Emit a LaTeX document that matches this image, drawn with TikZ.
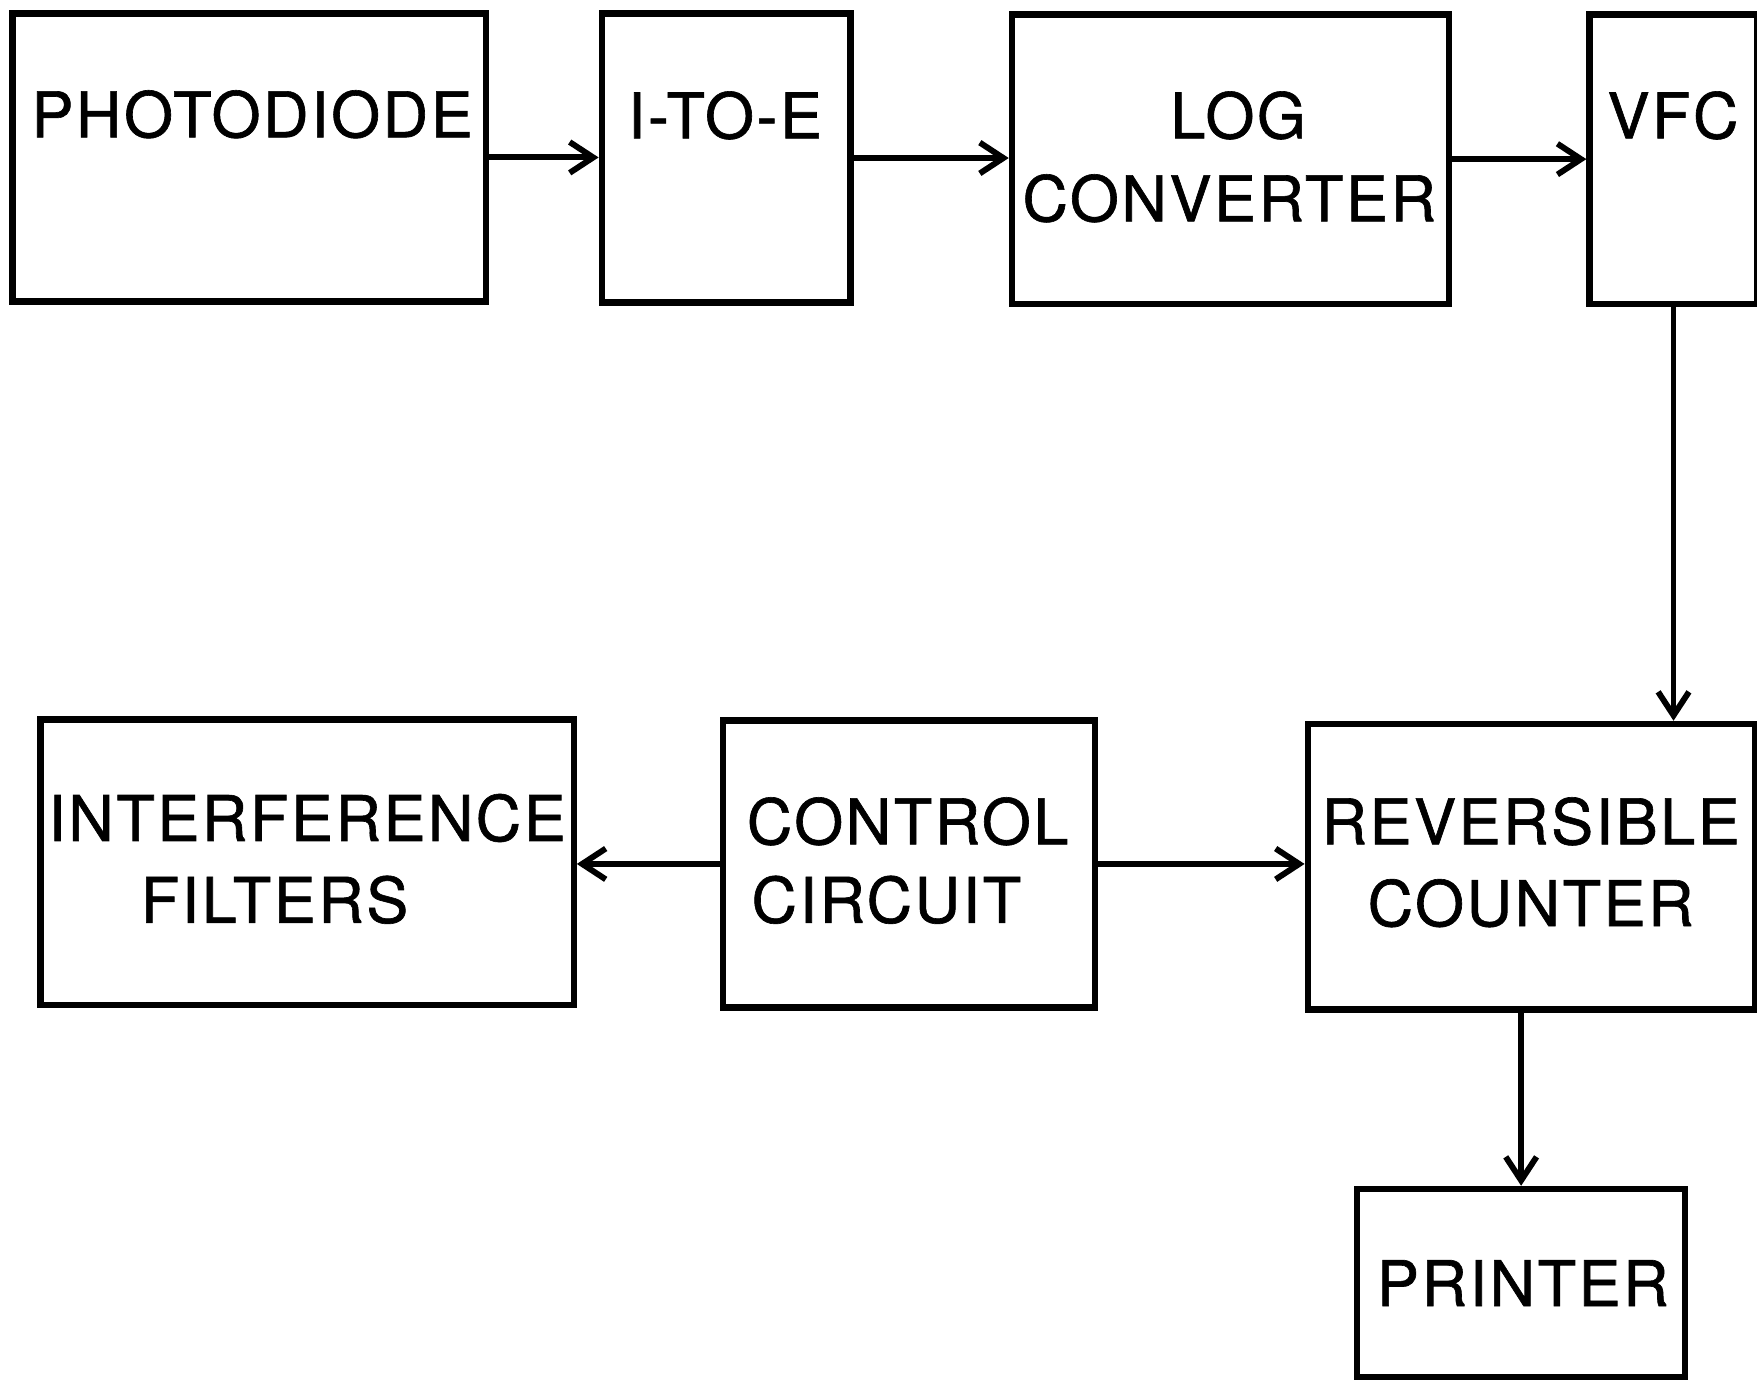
\documentclass[tikz,border=0pt]{standalone}
\usepackage{fontspec}
\setmainfont{TeX Gyre Heros}
\newfontfamily\lettering[FakeBold=1.0, LetterSpace=4]{TeX Gyre Heros}
\usetikzlibrary{arrows.meta, positioning, calc}
\tikzset{
  blk/.style={draw=black, line width=3.2pt, minimum width=#1, inner sep=0pt},
  lbl/.style={inner sep=0pt, font=\lettering\fontsize{32}{36}\selectfont},
  flow/.style={-{Straight Barb[length=0.42cm, width=0.55cm]}, line width=3pt, draw=black},
}

\begin{document}
\begin{tikzpicture}[x=0.02cm, y=-0.02cm]
  \useasboundingbox (0,0) rectangle (1568,1232);
  % top row
  \node (pd)   [blk=8.46cm, minimum height=5.14cm] at (222.5,140.5) {};
  \node (ite)  [blk=4.44cm, minimum height=5.16cm] at (648,141) {};
  \node (log)  [blk=7.80cm, minimum height=5.16cm] at (1098,142) {};
  \node (vfc)  [blk=3.00cm, minimum height=5.16cm] at (1493.5,142) {};
  % middle row
  \node (filt) [blk=9.52cm, minimum height=5.10cm] at (274,769.5) {};
  \node (ctrl) [blk=6.64cm, minimum height=5.12cm] at (811,771) {};
  \node (rev)  [blk=7.98cm, minimum height=5.10cm] at (1366.5,773.5) {};
  % bottom
  \node (prn)  [blk=5.86cm, minimum height=3.36cm] at (1357.5,1145) {};
  % texts
  \node (pdtxt)   [lbl] at (225,102) {PHOTODIODE};
  \node (itetxt)  [lbl] at (647,103) {I-TO-E};
  \node (logtxt)  [lbl] at (1105,103) {LOG};
  \node (convtxt) [lbl] at (1097,177) {CONVERTER};
  \node (vfctxt)  [lbl] at (1493,103) {VFC};
  \node (inttxt)  [lbl] at (274,730) {INTERFERENCE};
  \node (filtxt)  [lbl] at (245,803) {FILTERS};
  \node (contxt)  [lbl] at (810,733) {CONTROL};
  \node (cirtxt)  [lbl] at (791,803) {CIRCUIT};
  \node (revtxt)  [lbl] at (1366,733) {REVERSIBLE};
  \node (cnttxt)  [lbl] at (1366,806) {COUNTER};
  \node (prntxt)  [lbl] at (1359,1145) {PRINTER};
  % connectors
  \draw[flow] (pd.east) -- (pd.east -| ite.west);
  \draw[flow] (ite.east) -- (ite.east -| log.west);
  \draw[flow] (log.east) -- (log.east -| vfc.west);
  \draw[flow] (vfc.south) -- (vfc.south |- rev.north);
  \draw[flow] (ctrl.west) -- (ctrl.west -| filt.east);
  \draw[flow] (ctrl.east) -- (ctrl.east -| rev.west);
  \draw[flow] (prn.north |- rev.south) -- (prn.north);
\end{tikzpicture}
\end{document}
